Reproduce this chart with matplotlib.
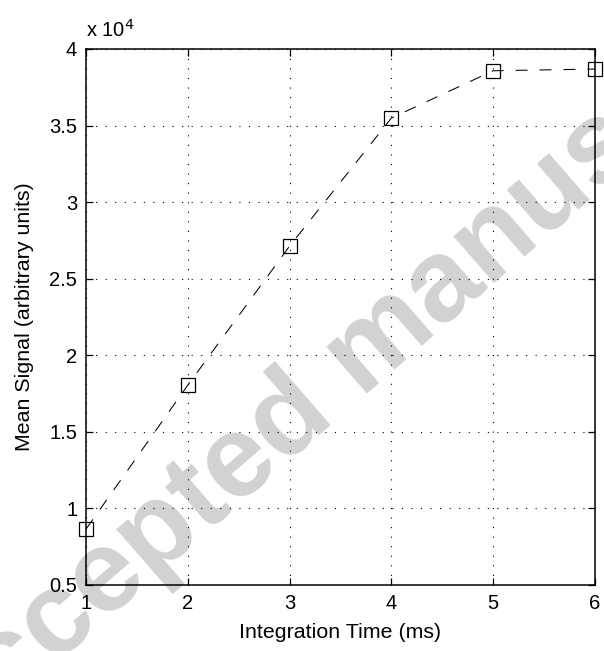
import matplotlib
matplotlib.use("Agg")
import matplotlib.pyplot as plt
from matplotlib.ticker import FuncFormatter

plt.rcParams['font.family'] = ['Liberation Sans', 'DejaVu Sans']

integration_time_ms = [1, 2, 3, 4, 5, 6]
mean_signal = [8650, 18050, 27130, 35490, 38580, 38690]
x_ticks = [1, 2, 3, 4, 5, 6]
y_ticks = [5000, 10000, 15000, 20000, 25000, 30000, 35000, 40000]

W, H = 604, 651
L, R, T, B = 86, 595, 49, 585
fig = plt.figure(figsize=(W / 100, H / 100), dpi=100)
ax = fig.add_axes([L / W, 1 - B / H, (R - L) / W, (B - T) / H])
ax.set_facecolor('none')

ax.plot(integration_time_ms, mean_signal, color='black', lw=0.75,
        linestyle=(0, (11.5, 11.5)), marker='s', markersize=9.6,
        markerfacecolor='none', markeredgecolor='black', markeredgewidth=0.9,
        clip_on=False, zorder=3)

ax.set_xlim(1, 6)
ax.set_ylim(5000, 40000)
ax.set_xticks(x_ticks)
ax.set_yticks(y_ticks)
ax.yaxis.set_major_formatter(FuncFormatter(lambda v, p: '%g' % (v / 1e4)))
ax.xaxis.set_major_formatter(FuncFormatter(lambda v, p: '%g' % v))

ax.grid(True, color='black', linestyle=(0, (1.0, 7.6)), linewidth=0.8)
ax.tick_params(direction='in', length=5, width=0.9, labelsize=14.5,
               top=True, right=True, pad=6.3, colors='black')
for s in ax.spines.values():
    s.set_linewidth(1.1)

ax.set_xlabel('Integration Time (ms)', fontsize=15.4, va='center')
ax.xaxis.set_label_coords(0.5, (B - 632) / (B - T))
ax.set_ylabel('Mean Signal (arbitrary units)', fontsize=15.4, va='center')
ax.yaxis.set_label_coords((24.5 - L) / (R - L), 0.5)

ax.text(0.0, 1 + 12 / (B - T), r'x 10$^{4}$', transform=ax.transAxes,
        fontsize=14.5, ha='left', va='baseline')

# watermark
fig.text(389 / W, 1 - 375 / H, 'Accepted manuscript', fontsize=84,
         fontweight='bold', color='#d2d2d2', rotation=41,
         rotation_mode='anchor', ha='center', va='baseline', zorder=-1,
         family=['Liberation Sans', 'DejaVu Sans'])

fig.savefig('out.png', dpi=100)
